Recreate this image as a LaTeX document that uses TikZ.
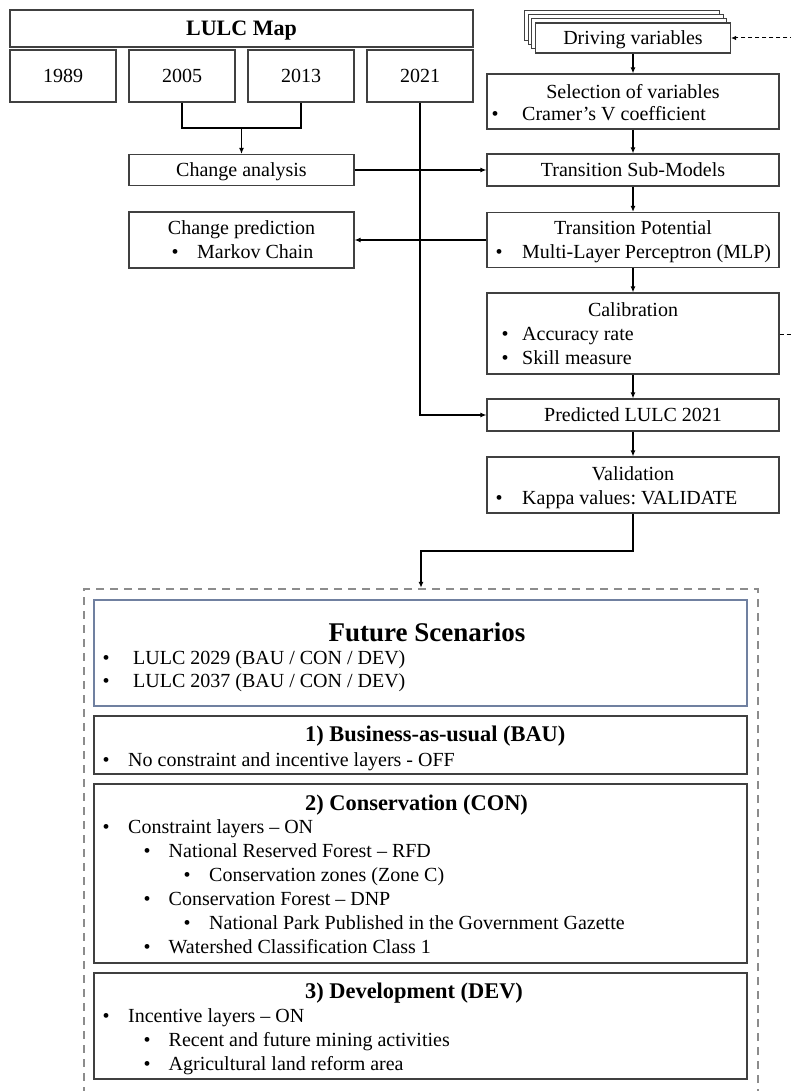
\documentclass[tikz,border=0pt]{standalone}
\usepackage{fontspec}
\setmainfont{Liberation Serif}
\usetikzlibrary{arrows.meta}
\definecolor{boxline}{RGB}{64,64,64}
\definecolor{futline}{RGB}{112,128,160}
\definecolor{dashgray}{RGB}{140,140,140}
\frenchspacing
\begin{document}
\begin{tikzpicture}[x=1pt,y=-1pt,
  box/.style={draw=boxline, line width=1.1pt, fill=white, inner sep=0pt, rectangle},
  txt/.style={inner sep=0pt, font=\fontsize{20}{23}\selectfont, text height=13.2pt, text depth=0pt},
  btitle/.style={inner sep=0pt, font=\fontsize{22.4}{26}\selectfont\bfseries, text height=14.8pt, text depth=0pt},
  bigtitle/.style={inner sep=0pt, font=\fontsize{27}{31}\selectfont\bfseries, text height=17.8pt, text depth=0pt},
  conn/.style={line width=1.3pt, draw=black},
  arr/.style={conn, -{Latex[length=6pt,width=5pt]}},
  fb/.style={line width=1pt, draw=black, dash pattern=on 4pt off 3pt, -{Latex[length=5pt,width=4.5pt]}},
]
\useasboundingbox (0,0) rectangle (791,1091);
\clip (0,0) rectangle (791,1091);
\fill[white] (0,0) rectangle (791,1091);

% ---------- LULC maps ----------
\node[box, minimum width=463pt, minimum height=37pt] (lulc) at (241.5,28.5) {};
\node[btitle, font=\fontsize{22}{26}\selectfont\bfseries] (lulct) at (lulc.center) {LULC Map};
\node[box, txt, minimum width=106pt, minimum height=52pt] (y1989) at (63,76) {1989};
\node[box, txt, minimum width=106pt, minimum height=52pt] (y2005) at (182,76) {2005};
\node[box, txt, minimum width=106pt, minimum height=52pt] (y2013) at (301,76) {2013};
\node[box, txt, minimum width=106pt, minimum height=52pt] (y2021) at (420,76) {2021};

\node[box, txt, minimum width=225pt, minimum height=31pt] (chg) at (241.5,170) {Change analysis};

\node[box, minimum width=225pt, minimum height=56pt] (chp) at (241.5,240) {};
\node[txt] (chpt) at (241.5,228) {Change prediction};
\node[txt] (chpb) at (175,252) {•};
\node[txt, anchor=west] (chpl) at (197,252) {Markov Chain};

% ---------- right column ----------
\foreach \k/\n in {3/drvc,2/drvb,1/drva}
  \node[box, line width=1pt, minimum width=195pt, minimum height=30pt] (\n) at (633-3.7*\k, 38-4.3*\k) {};
\node[box, txt, minimum width=195pt, minimum height=30pt] (drv) at (633,38) {Driving variables};

\node[box, minimum width=292pt, minimum height=55pt] (sel) at (633,101.5) {};
\node[txt] (selt) at (633,92) {Selection of variables};
\node[txt] (selb) at (495,114) {•};
\node[txt, anchor=west] (sell) at (522,114) {Cramer’s V coefficient};

\node[box, txt, minimum width=292pt, minimum height=32pt] (sub) at (633,170) {Transition Sub-Models};

\node[box, minimum width=292pt, minimum height=55pt] (pot) at (633,240) {};
\node[txt] (pott) at (633,228) {Transition Potential};
\node[txt] (potb) at (499,252) {•};
\node[txt, anchor=west] (potl) at (522,252) {Multi-Layer Perceptron (MLP)};

\node[box, minimum width=292pt, minimum height=81pt] (cal) at (633,333.5) {};
\node[txt] (calt) at (633,310) {Calibration};
\node[txt] (calb1) at (505,334) {•};
\node[txt, anchor=west] (call1) at (522,334) {Accuracy rate};
\node[txt] (calb2) at (505,358) {•};
\node[txt, anchor=west] (call2) at (522,358) {Skill measure};

\node[box, txt, minimum width=292pt, minimum height=32pt] (plulc) at (633,415) {Predicted LULC 2021};

\node[box, minimum width=292pt, minimum height=56pt] (val) at (633,485) {};
\node[txt] (valt) at (633,474) {Validation};
\node[txt] (valb) at (499,498) {•};
\node[txt, anchor=west] (vall) at (522,498) {Kappa values: VALIDATE};

% ---------- scenarios ----------
\node[draw=dashgray, line width=2.4pt, dash pattern=on 8pt off 6pt, minimum width=674pt, minimum height=506pt, inner sep=0pt] (scen) at (421,842) {};

\node[draw=futline, line width=1.1pt, fill=white, minimum width=653pt, minimum height=106pt, inner sep=0pt] (fut) at (420.5,653) {};
\node[bigtitle] (futt) at (427,633) {Future Scenarios};
\node[txt] (futb1) at (106,658) {•};
\node[txt, anchor=west] (futl1) at (133,658) {LULC 2029 (BAU / CON / DEV)};
\node[txt] (futb2) at (106,681) {•};
\node[txt, anchor=west] (futl2) at (133,681) {LULC 2037 (BAU / CON / DEV)};

\node[box, minimum width=653pt, minimum height=58pt] (bau) at (420.5,745) {};
\node[btitle, anchor=west] (baut) at (305,734) {1) Business-as-usual (BAU)};
\node[txt] (baub) at (106,759.5) {•};
\node[txt, anchor=west] (baul) at (128,759.5) {No constraint and incentive layers - OFF};

\node[box, minimum width=653pt, minimum height=179pt] (con) at (420.5,873.5) {};
\node[btitle, anchor=west] (cont) at (305,803) {2) Conservation (CON)};
\node[txt] (conb1) at (106,827) {•};
\node[txt, anchor=west] (conl1) at (128,827) {Constraint layers – ON};
\node[txt] (conb2) at (147,851) {•};
\node[txt, anchor=west] (conl2) at (168.5,851) {National Reserved Forest – RFD};
\node[txt] (conb3) at (187,875) {•};
\node[txt, anchor=west] (conl3) at (209,875) {Conservation zones (Zone C)};
\node[txt] (conb4) at (147,899) {•};
\node[txt, anchor=west] (conl4) at (168.5,899) {Conservation Forest – DNP};
\node[txt] (conb5) at (187,923) {•};
\node[txt, anchor=west] (conl5) at (209,923) {National Park Published in the Government Gazette};
\node[txt] (conb6) at (147,947) {•};
\node[txt, anchor=west] (conl6) at (168.5,947) {Watershed Classification Class 1};

\node[box, minimum width=653pt, minimum height=106pt] (dev) at (420.5,1026) {};
\node[btitle, anchor=west] (devt) at (305,991) {3) Development (DEV)};
\node[txt] (devb1) at (106,1015.5) {•};
\node[txt, anchor=west] (devl1) at (128,1015.5) {Incentive layers – ON};
\node[txt] (devb2) at (147,1039.5) {•};
\node[txt, anchor=west] (devl2) at (168.5,1039.5) {Recent and future mining activities};
\node[txt] (devb3) at (147,1063.5) {•};
\node[txt, anchor=west] (devl3) at (168.5,1063.5) {Agricultural land reform area};

% ---------- connectors ----------
\coordinate (j1) at (241.5,128);
\draw[conn] (y2005.south) |- (j1) -| (y2013.south);
\draw[arr] (j1) -- (chg.north);
\draw[arr] (chg.east) -- (chg.east -| sub.west);
\draw[arr] (y2021.south) |- (plulc.west);
\draw[arr] (pot.west) -- (pot.west -| chp.east);
\draw[arr] (drv.south) -- (sel.north);
\draw[arr] (sel.south) -- (sub.north);
\draw[arr] (sub.south) -- (pot.north);
\draw[arr] (pot.south) -- (cal.north);
\draw[arr] (cal.south) -- (plulc.north);
\draw[arr] (plulc.south) -- (val.north);
\coordinate (j2) at (633,551);
\draw[arr] (val.south) -- (j2) -| (scen.north);
\coordinate (fbc) at (800,334);
\draw[fb] (cal.east |- fbc) -- (fbc) |- (drv.east);
\end{tikzpicture}
\end{document}
